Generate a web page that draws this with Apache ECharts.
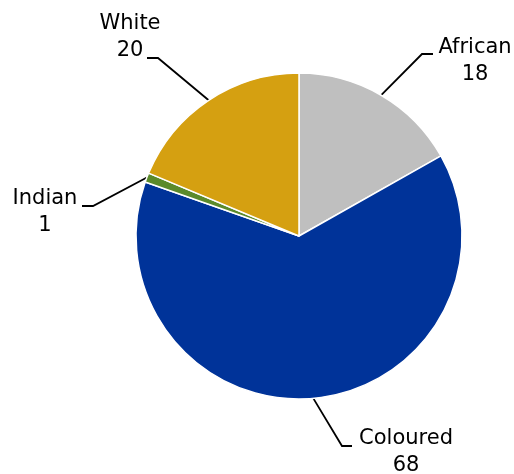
<!DOCTYPE html>
<html>
<head>
<meta charset="utf-8">
<script src="https://cdn.jsdelivr.net/npm/echarts@6/dist/echarts.min.js"></script>
<style>html,body{margin:0;padding:0;background:#fff}#c{width:514px;height:474px}</style>
</head>
<body>
<div id="c"></div>
<script>
const categories = ['African', 'Coloured', 'Indian', 'White'];
const values = [18, 68, 1, 20];
const colors = ['#BFBFBF', '#003399', '#5B8A2B', '#D5A011'];

// label placement (layout only)
const labelPos = [
  { x: 475, y: 61, elbow: [422, 54], end: [433, 54] },
  { x: 406, y: 452, elbow: [342, 446], end: [352, 446] },
  { x: 45, y: 212, elbow: [93, 206], end: [82, 206] },
  { x: 130, y: 37, elbow: [158, 58], end: [147, 58] }
];

const chart = echarts.init(document.getElementById('c'));
chart.setOption({
  animation: false,
  series: [{
    type: 'pie',
    center: [299, 236],
    radius: 163,
    startAngle: 90,
    clockwise: true,
    data: categories.map((n, i) => ({ name: n, value: values[i], itemStyle: { color: colors[i] } })),
    itemStyle: { borderColor: '#fff', borderWidth: 1.5 },
    label: {
      show: true,
      formatter: '{b}\n{c}',
      fontFamily: 'DejaVu Sans',
      fontSize: 21,
      lineHeight: 26.5,
      color: '#000',
      align: 'center'
    },
    labelLine: { show: true, length: 20, length2: 10, lineStyle: { color: '#000', width: 1.8 } },
    labelLayout: function (params) {
      const p = labelPos[params.dataIndex];
      const p0 = params.labelLinePoints ? params.labelLinePoints[0] : p.elbow;
      return {
        x: p.x, y: p.y, align: 'center', verticalAlign: 'middle',
        labelLinePoints: [p0, p.elbow, p.end]
      };
    }
  }]
});
</script>
</body>
</html>
